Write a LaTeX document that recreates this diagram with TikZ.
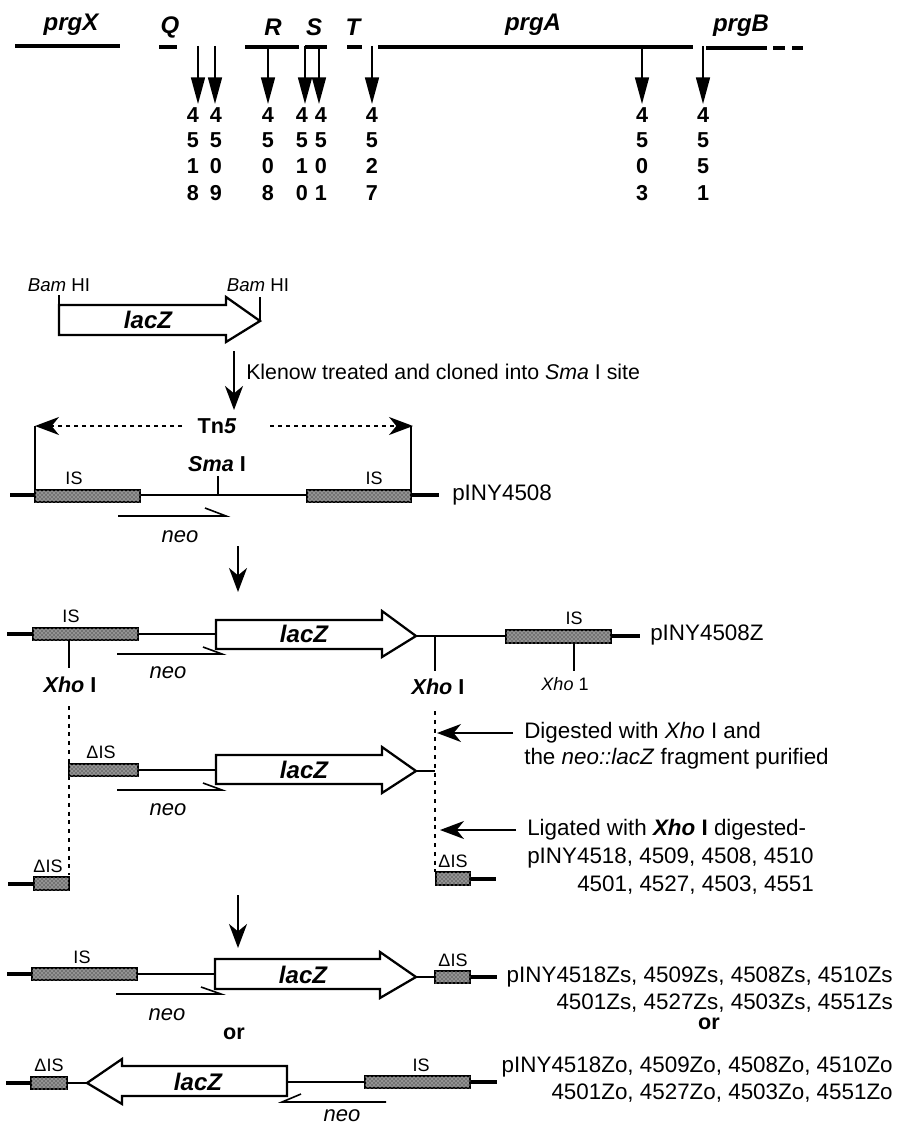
\documentclass[tikz,border=0pt]{standalone}
\usepackage{fontspec}
\setmainfont{Liberation Sans}
\usepackage{tikz}
\usetikzlibrary{arrows.meta,patterns}
\begin{document}
\begin{tikzpicture}[x=0.75pt,y=-0.75pt,>={Stealth[length=18pt,width=13.5pt,inset=5.5pt]},font=\fontsize{16.8}{19}\selectfont,line cap=butt,
  gene/.style={line width=3pt},
  wire/.style={line width=1.2pt},
  stub/.style={line width=2.6pt},
  isbox/.style={draw=black,line width=1.9pt,fill=black!55,postaction={pattern=crosshatch dots,pattern color=white}},
  gap/.style={wire,->,>={Triangle[length=20pt,width=10.5pt]}},
  lacbox/.style={draw=black,line width=1.7pt,fill=white,line join=miter},
  neoline/.style={line width=1.2pt},
  dotcut/.style={line width=2pt,dash pattern=on 3pt off 3.6pt},
  genename/.style={font=\fontsize{18}{20}\selectfont\bfseries\itshape},
  boldlbl/.style={inner sep=0pt,font=\fontsize{16.2}{18}\selectfont\bfseries},
  itlbl/.style={inner sep=0pt,font=\fontsize{16.5}{18}\selectfont\itshape},
  lbl/.style={inner sep=0pt,anchor=west},
  rlbl/.style={inner sep=0pt,anchor=east},
  smalllbl/.style={inner sep=0pt,font=\fontsize{13.5}{15}\selectfont}]
\useasboundingbox (0,0) rectangle (896,1127);
% genes along the top
\draw[gene] (15,46) -- (120,46);
\draw[gene] (159,47) -- (177,47);
\draw[gene] (245,47) -- (299,47);
\draw[gene] (305,47) -- (327,47);
\draw[gene] (347,47) -- (362,47);
\draw[gene] (378,47) -- (693,47);
\draw[gene] (706,48) -- (767,48);
\draw[gene] (773,48) -- (785,48);
\draw[gene] (792,48) -- (803,48);
\node[genename] (prgX) at (71,25) {prgX};
\node[genename] (geneQ) at (170,27) {Q};
\node[genename] (geneR) at (273,27) {R};
\node[genename] (geneS) at (314,27) {S};
\node[genename] (geneT) at (353,27) {T};
\node[genename] (prgA) at (533,25) {prgA};
\node[genename] (prgB) at (741,26) {prgB};
% insertion sites
\foreach \px/\py/\pname/\a/\b/\c/\d in {198/193/q/4/5/1/8,215/216/qb/4/5/0/9,268/268/r/4/5/0/8,305/302/s/4/5/1/0,319/321/sb/4/5/0/1,372/372/t/4/5/2/7,642/642/a/4/5/0/3,703/703/b/4/5/5/1}{
  \coordinate (ins\pname) at (\px,46);
  \coordinate (tip\pname) at (\px,104);
  \draw[gap] (ins\pname) -- (tip\pname);
  \node[boldlbl] (n\pname a) at (\py,115) {\a};
  \node[boldlbl] (n\pname b) at (\py,140) {\b};
  \node[boldlbl] (n\pname c) at (\py,166) {\c};
  \node[boldlbl] (n\pname d) at (\py,193) {\d};
}
% lacZ cassette
\node[inner sep=0pt,font=\fontsize{14}{16}\selectfont] (bamA) at (59,285) {\textit{Bam} HI};
\node[inner sep=0pt,font=\fontsize{14}{16}\selectfont] (bamB) at (258,285) {\textit{Bam} HI};
\draw[lacbox] (59,305) -- (226,305) -- (226,297) -- (260,321) -- (226,342) -- (226,335) -- (59,335) -- cycle;
\draw[wire] (59,295) -- (59,305);
\draw[wire] (260,297) -- (260,322);
\node[genename] (lacA) at (148,320) {lacZ};
\draw[line width=1.8pt,->] (234,351) -- (234,410);
\node[lbl,font=\fontsize{16}{18}\selectfont] (klenow) at (246,372) {Klenow treated and cloned into \textit{Sma} I site};
% pINY4508
\node[boldlbl] (tn) at (217,426) {Tn\textit{5}};
\coordinate (tnl) at (35,426);
\coordinate (tnr) at (413,426);
\draw[wire,dashed,->] (182,426) -- (tnl);
\draw[wire,dashed,->] (270,426) -- (tnr);
\draw[wire] (35,426) -- (35,495);
\draw[wire] (411,426) -- (411,495);
\draw[stub] (10,495) -- (35,495);
\draw[wire] (140,495) -- (307,495);
\draw[stub] (411,495) -- (439,495);
\draw[isbox] (35,490) rectangle (140,502);
\draw[isbox] (307,490) rectangle (411,502);
\draw[wire] (218,476) -- (218,495);
\node[boldlbl] (smaI) at (217,464) {\textit{Sma} I};
\node[smalllbl] (isA) at (74,478) {IS};
\node[smalllbl] (isB) at (374,478) {IS};
\node[lbl] (p4508) at (452,495) {pINY4508};
\draw[neoline] (118,516) -- (226,516) -- (205,508);
\node[itlbl] (neoA) at (180,537) {neo};
\draw[line width=1.5pt,->] (238,546) -- (238,592);
% pINY4508Z
\draw[stub] (7,634) -- (33,634);
\draw[wire] (138,634) -- (216,634);
\draw[wire] (416,636) -- (506,636);
\draw[stub] (611,636) -- (640,636);
\draw[isbox] (33,628) rectangle (138,640);
\draw[isbox] (506,630) rectangle (611,643);
\draw[lacbox] (216,620) -- (382,620) -- (382,611) -- (416,636) -- (382,657) -- (382,649) -- (216,649) -- cycle;
\node[genename] (lacB) at (304,634) {lacZ};
\draw[wire] (69,640) -- (69,668);
\draw[wire] (435,636) -- (435,671);
\draw[wire] (574,643) -- (574,671);
\draw[neoline] (117,654) -- (222,654) -- (203,647);
\node[itlbl] (neoB) at (168,673) {neo};
\node[smalllbl] (isC) at (71,616) {IS};
\node[smalllbl] (isD) at (574,618) {IS};
\node[lbl] (p4508Z) at (650,635) {pINY4508Z};
\node[boldlbl] (xhoA) at (70,685) {\textit{Xho} I};
\node[boldlbl] (xhoB) at (438,687) {\textit{Xho} I};
\node[smalllbl] (xhoC) at (565,684) {\textit{Xho} 1};
% digest and ligate
\draw[dotcut] (69,706) -- (69,875);
\draw[dotcut] (435,711) -- (435,872);
\draw[wire] (138,770) -- (216,770);
\draw[wire] (416,771) -- (435,771);
\draw[isbox] (69,764) rectangle (138,776);
\draw[lacbox] (216,755) -- (382,755) -- (382,747) -- (416,771) -- (382,793) -- (382,784) -- (216,784) -- cycle;
\node[genename] (lacC) at (304,770) {lacZ};
\draw[neoline] (117,790) -- (222,790) -- (203,783);
\node[itlbl] (neoC) at (168,810) {neo};
\node[smalllbl] (disA) at (101,752) {ΔIS};
\coordinate (cutA) at (437,733);
\coordinate (cutB) at (440,830);
\node[lbl] (digest) at (524,733) {Digested with \textit{Xho} I and};
\node[lbl] (digestb) at (524,759) {the \textit{neo::lacZ} fragment purified};
\node[lbl] (ligate) at (527,830) {Ligated with \textbf{\textit{Xho} I} digested-};
\node[lbl] (ligateb) at (527,858) {pINY4518, 4509, 4508, 4510};
\node[lbl] (ligatec) at (577,885) {4501, 4527, 4503, 4551};
\draw[wire,->] (513,733) -- (cutA);
\draw[wire,->] (516,830) -- (cutB);
\draw[stub] (8,884) -- (34,884);
\draw[isbox] (34,877) rectangle (69,890);
\node[smalllbl] (disB) at (48,866) {ΔIS};
\draw[stub] (470,879) -- (496,879);
\draw[isbox] (436,872) rectangle (470,885);
\node[smalllbl] (disC) at (453,861) {ΔIS};
\draw[line width=1.5pt,->] (238,895) -- (238,948);
% the two products
\draw[stub] (7,974) -- (33,974);
\draw[wire] (137,974) -- (215,974);
\draw[wire] (416,977) -- (435,977);
\draw[stub] (470,977) -- (497,977);
\draw[isbox] (32,968) rectangle (137,980);
\draw[isbox] (435,971) rectangle (470,983);
\draw[lacbox] (215,959) -- (380,959) -- (380,952) -- (416,977) -- (380,998) -- (380,989) -- (215,989) -- cycle;
\node[genename] (lacD) at (303,975) {lacZ};
\draw[neoline] (116,994) -- (221,994) -- (201,987);
\node[itlbl] (neoD) at (167,1015) {neo};
\node[smalllbl] (isE) at (82,957) {IS};
\node[smalllbl] (disD) at (453,960) {ΔIS};
\node[boldlbl] (orA) at (234,1034) {or};
\node[rlbl] (zsA) at (893,977) {pINY4518Zs, 4509Zs, 4508Zs, 4510Zs};
\node[rlbl] (zsB) at (893,1003) {4501Zs, 4527Zs, 4503Zs, 4551Zs};
\node[boldlbl] (orB) at (709,1024) {or};
\draw[stub] (6,1083) -- (31,1083);
\draw[wire] (67,1083) -- (87,1083);
\draw[wire] (287,1082) -- (365,1082);
\draw[stub] (470,1082) -- (497,1082);
\draw[isbox] (31,1077) rectangle (67,1089);
\draw[isbox] (365,1076) rectangle (470,1088);
\draw[lacbox] (287,1066) -- (122,1066) -- (122,1059) -- (87,1083) -- (122,1104) -- (122,1096) -- (287,1096) -- cycle;
\node[genename] (lacE) at (198,1082) {lacZ};
\draw[neoline] (386,1102) -- (282,1102) -- (301,1094);
\node[itlbl] (neoE) at (342,1116) {neo};
\node[smalllbl] (disE) at (49,1065) {ΔIS};
\node[smalllbl] (isF) at (421,1065) {IS};
\node[rlbl] (zoA) at (893,1067) {pINY4518Zo, 4509Zo, 4508Zo, 4510Zo};
\node[rlbl] (zoB) at (893,1093) {4501Zo, 4527Zo, 4503Zo, 4551Zo};
\end{tikzpicture}
\end{document}
